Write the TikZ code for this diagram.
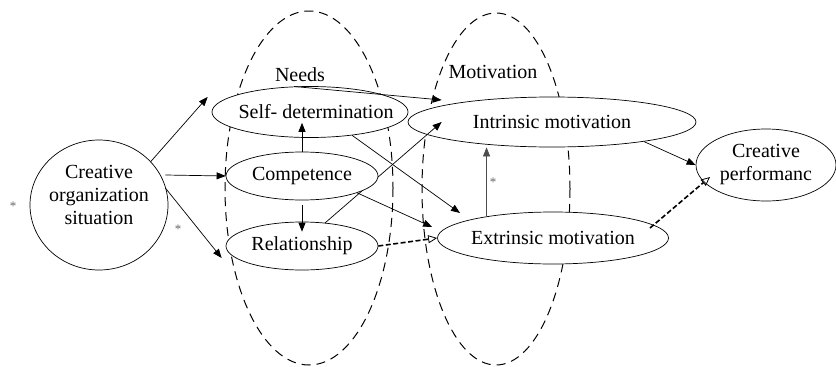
\documentclass[tikz,border=0pt]{standalone}
\usepackage{fontspec}
\setmainfont{Liberation Serif}
\usepackage{tikz}
\usetikzlibrary{shapes.geometric}
\usetikzlibrary{arrows.meta}
\usetikzlibrary{calc}

\tikzset{
  box/.style={draw, ellipse, fill=white, inner sep=0pt, line width=0.7pt},
  star/.style={font=\fontsize{13}{13}\selectfont, text=black!60, inner sep=0pt},
  arr/.style={line width=0.7pt, -{Triangle[length=9pt,width=7pt]}},
  darr/.style={line width=1.6pt, dash pattern=on 5pt off 2.5pt, -{Triangle[open,length=9pt,width=8pt,line width=0.8pt]}},
  grp/.style={line width=1pt, dash pattern=on 9pt off 6pt}
}

\begin{document}
\begin{tikzpicture}[x=1pt,y=-1pt,font=\fontsize{20}{23}\selectfont]
\useasboundingbox (0,0) rectangle (836,367);
% groups
\draw[grp] (309,188) ellipse [x radius=84, y radius=177];
\draw[grp] (496,189) ellipse [x radius=74, y radius=176];
\node[inner sep=0pt] (needs) at (300,75) {Needs};
\node[inner sep=0pt] (motiv) at (493,72) {Motivation};
% nodes
\node[box, minimum width=138pt, minimum height=130pt, label={[align=center, yshift=10pt]center:Creative\\organization\\situation}] (org) at (99,205) {};
\node[box, minimum width=196pt, minimum height=51pt, label={[xshift=6pt]center:Self- determination}] (sd) at (310,112) {};
\node[box, minimum width=152pt, minimum height=48pt, label=center:Relationship] (rel) at (302,246) {};
\node[box, minimum width=288pt, minimum height=50pt, label=center:{Intrinsic motivation}] (intr) at (552,122) {};
\node[box, minimum width=231pt, minimum height=52pt, label=center:{Extrinsic motivation}] (extr) at (553,238) {};
\node[box, minimum width=140pt, minimum height=72pt, label={[align=center]center:Creative\\performanc}] (perf) at (766,165) {};
\draw[arr] (rel.45) -- ($(intr.west)+(34,0)$);
\node[box, minimum width=152pt, minimum height=48pt, label=center:Competence] (comp) at (302,176) {};
\node[star] (s1) at (13,206) {*};
\node[star] (s2) at (178,229) {*};
\node[star] (s3) at (493,182) {*};
% connectors
\draw[arr] (org.40) -- ($(sd.west)+(-4,-15)$);
\draw[arr] ($(org.east)+(-3,-30)$) -- (comp.west);
\draw[arr] ($(org.east)+(-3,-17)$) -- ($(rel.west)+(-4,12)$);
\draw[arr] (comp.north) -- ($(comp.north |- sd.south)+(0,-15)$);
\draw[arr] ($(comp.south)+(0,5)$) -- ($(comp.south |- rel.north)+(0,10)$);
\draw[arr] (sd.122) -- ($(intr.west)+(34,-22)$);
\draw[arr] (sd.331) -- ($(extr.center)+(-93,-25)$);
\draw[arr] (comp.343) -- ($(extr.west)+(-5,-11)$);
\draw[darr] (rel.east) -- (extr.west);
\draw[arr, draw=black!70] (extr.162) -- (extr.162 |- intr.south);
\draw[arr] (intr.348) -- (perf.west);
\draw[darr] ($(extr.center)+(97,-10)$) -- ($(perf.center)+(-56,12)$);
\end{tikzpicture}
\end{document}
